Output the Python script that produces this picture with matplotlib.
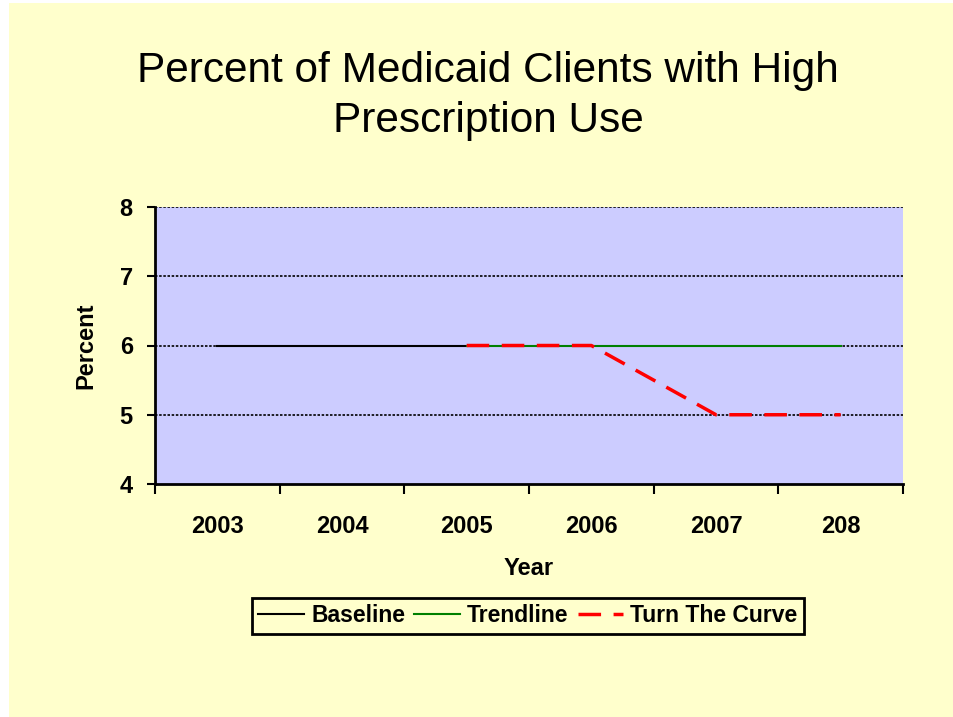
import matplotlib
matplotlib.use("Agg")
import matplotlib.pyplot as plt
from matplotlib.patches import Rectangle

years = ["2003", "2004", "2005", "2006", "2007", "208"]
baseline = [6, 6, 6, None, None, None]
trendline = [None, None, 6, 6, 6, 6]
turn_curve = [None, None, 6, 6, 5, 5]

plt.rcParams['font.family'] = ['Liberation Sans', 'DejaVu Sans']

fig = plt.figure(figsize=(9.54, 7.17), dpi=100, facecolor='white')
# yellow slide background with thin white margin on top/left
fig.patches.append(Rectangle((9 / 954, 0), 1, 1 - 3 / 717, transform=fig.transFigure,
                             facecolor='#FFFFCC', edgecolor='none', zorder=-10))

ax = fig.add_axes([155 / 954, 1 - 484 / 717, 748 / 954, 277 / 717])
ax.set_facecolor('#CCCCFF')

x = list(range(len(years)))


def pts(vals):
    xs = [i for i, v in zip(x, vals) if v is not None]
    ys = [v for v in vals if v is not None]
    return xs, ys


bx, by = pts(baseline)
tx, ty = pts(trendline)
cx, cy = pts(turn_curve)
ax.plot(bx, by, color='black', lw=1.5, label='Baseline', zorder=3)
ax.plot(tx, ty, color='#008000', lw=1.5, label='Trendline', zorder=4)
ax.plot(cx, cy, color='#FF0000', lw=2.5, dashes=(6.5, 3.6), label='Turn The Curve', zorder=5)

ax.set_xlim(-0.5, 5.5)
ax.set_ylim(4, 8)
ax.set_yticks([4, 5, 6, 7, 8])
for yv in [5, 6, 7, 8]:
    ax.axhline(yv, color='black', lw=1.2, ls=(0, (1.5, 1)), zorder=2)

ax.set_xticks([i - 0.5 for i in range(len(years) + 1)])
ax.set_xticklabels([])
ax.set_xticks(x, minor=True)
ax.set_xticklabels(years, minor=True, fontsize=17, fontweight='bold')
ax.tick_params(axis='x', which='major', length=7, width=1.5, direction='out')
ax.tick_params(axis='x', which='minor', length=0, pad=22)
ax.tick_params(axis='y', length=6, width=1.5, labelsize=17, pad=10)
for lab in ax.get_yticklabels():
    lab.set_fontweight('bold')

for s in ['top', 'right']:
    ax.spines[s].set_visible(False)
for s in ['left', 'bottom']:
    ax.spines[s].set_linewidth(2)

ax.set_xlabel('Year', fontsize=17, fontweight='bold', labelpad=14)
ax.set_ylabel('Percent', fontsize=17, fontweight='bold', labelpad=16)

fig.text(488 / 954, 1 - 96 / 717, "Percent of Medicaid Clients with High\nPrescription Use",
         ha='center', va='center', fontsize=30.5, linespacing=1.3)

leg = fig.legend(loc='center', bbox_to_anchor=(528 / 954, 1 - 616 / 717), ncol=3,
                 frameon=True, fancybox=False, handlelength=2.0, framealpha=1,
                 columnspacing=0.4, handletextpad=0.3, borderpad=0.3,
                 prop={'weight': 'bold', 'size': 16.5})
leg.get_frame().set_edgecolor('black')
leg.get_frame().set_linewidth(2)
leg.get_frame().set_facecolor('#FFFFCC')

fig.savefig('out.png', dpi=100, facecolor=fig.get_facecolor())
